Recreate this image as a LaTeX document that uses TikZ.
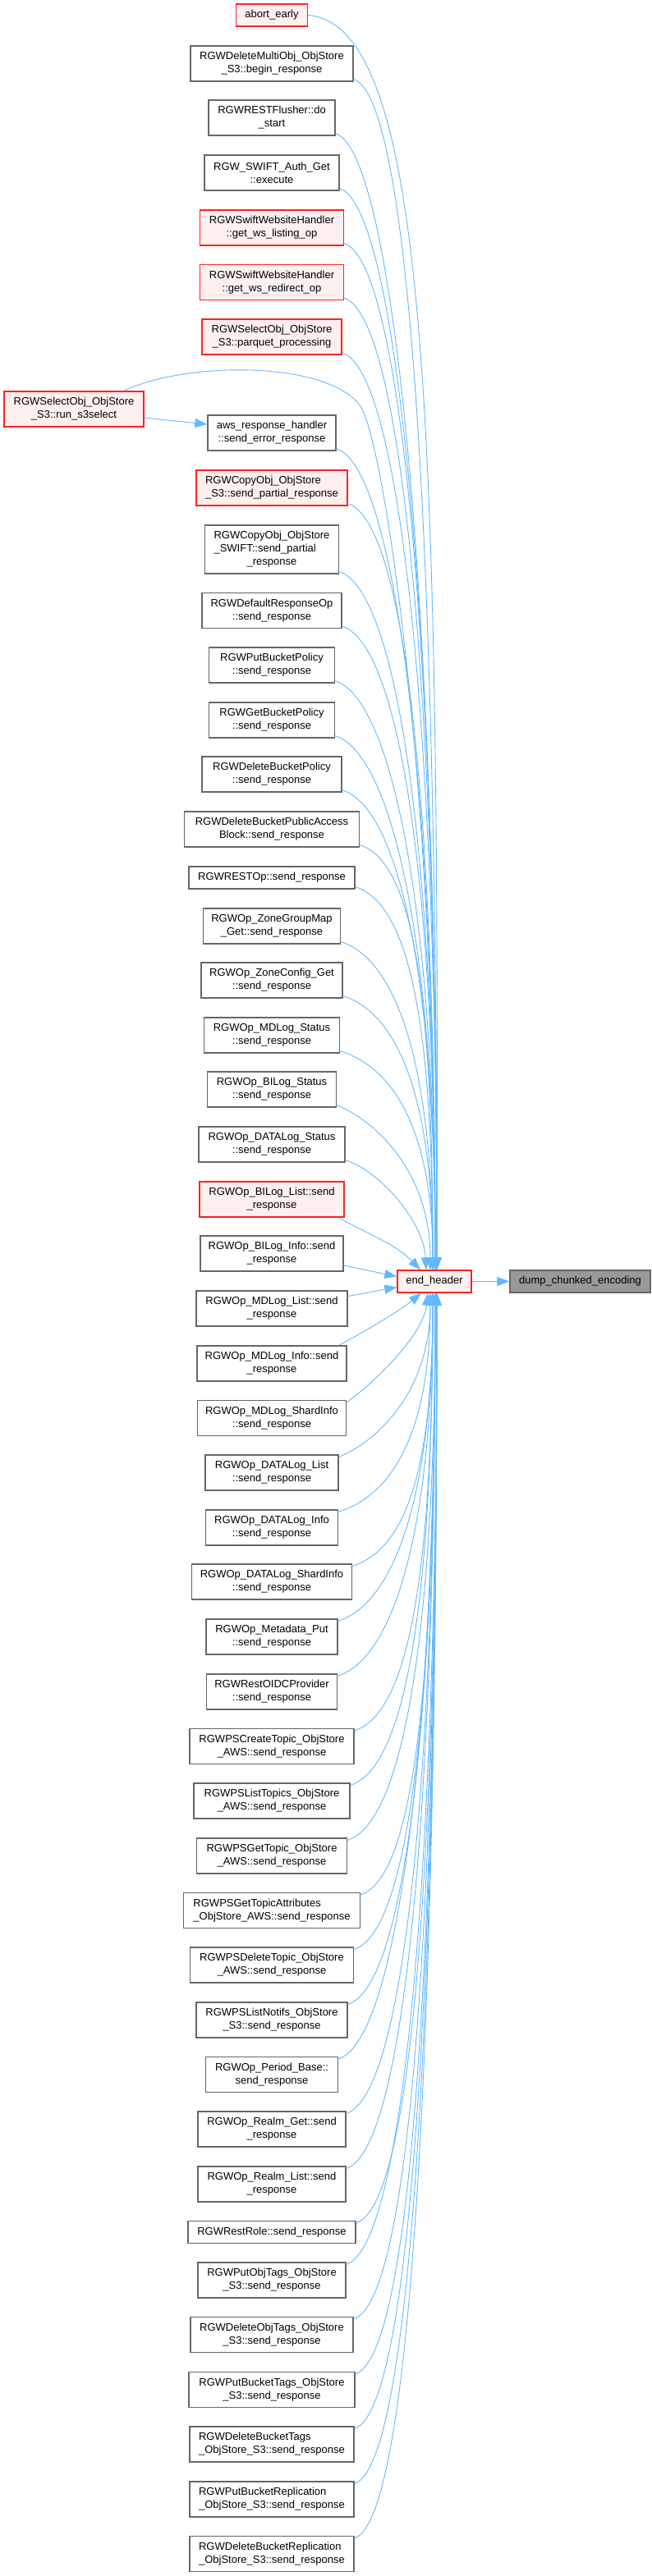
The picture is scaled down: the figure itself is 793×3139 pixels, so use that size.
\documentclass[tikz,border=0pt]{standalone}
\usepackage{fontspec}
\setmainfont{Liberation Sans}
\usetikzlibrary{arrows.meta}
\definecolor{edgec}{HTML}{63B8FF}
\definecolor{redb}{HTML}{FF2020}
\definecolor{pinkf}{HTML}{FFF0F0}
\definecolor{grayb}{HTML}{666666}
\definecolor{dumpf}{HTML}{999999}
\tikzset{
  nd/.style={draw=grayb, fill=white, line width=1.3pt, inner sep=0pt, minimum height=43pt,
    font=\fontsize{13}{16}\selectfont, align=center},
  hl/.style={nd, draw=redb, fill=pinkf},
  edge/.style={draw=edgec, line width=0.9pt, -{Triangle[length=15pt,width=11pt]}}
}
\newcommand\upE[4]{\draw[edge] ([yshift=3pt]#1.south east) .. controls +(#3) and +(0,-#4) .. ([xshift=#2pt]eh.north);}
\newcommand\dnE[4]{\draw[edge] ([yshift=-3pt]#1.north east) .. controls +(#3) and +(0,#4) .. ([xshift=#2pt]eh.south);}
\begin{document}
\begin{tikzpicture}[x=1pt,y=-1pt]
\useasboundingbox (0,0) rectangle (793,3139);
% nodes
\node[hl, minimum width=87pt, minimum height=27pt] (n1) at (331,18.5) {abort\_early};
\node[nd, minimum width=198pt] (n2) at (331,77.5) {RGWDeleteMultiObj\_ObjStore\\\_S3::begin\_response};
\node[nd, minimum width=154pt] (n3) at (331,143.5) {RGWRESTFlusher::do\\\_start};
\node[nd, minimum width=164pt] (n4) at (331,210.5) {RGW\_SWIFT\_Auth\_Get\\::execute};
\node[hl, minimum width=175pt] (n5) at (331,277.5) {RGWSwiftWebsiteHandler\\::get\_ws\_listing\_op};
\node[hl, minimum width=175pt] (n6) at (331,344) {RGWSwiftWebsiteHandler\\::get\_ws\_redirect\_op};
\node[hl, minimum width=170pt] (n7) at (331,410.5) {RGWSelectObj\_ObjStore\\\_S3::parquet\_processing};
\node[hl, minimum width=170pt] (rs) at (90,498.5) {RGWSelectObj\_ObjStore\\\_S3::run\_s3select};
\node[nd, minimum width=156pt] (n8) at (331,527.5) {aws\_response\_handler\\::send\_error\_response};
\node[hl, minimum width=184pt, align=left] (n9) at (331,594.5) {RGWCopyObj\_ObjStore\\\_S3::send\_partial\_response};
\node[nd, minimum width=163pt, minimum height=59pt] (n10) at (331,669.5) {\begin{tabular}{@{}l@{}}RGWCopyObj\_ObjStore\\\_SWIFT::send\_partial\\\multicolumn{1}{@{}c@{}}{\_response}\end{tabular}};
\node[nd, minimum width=170pt] (n11) at (331,744) {RGWDefaultResponseOp\\::send\_response};
\node[nd, minimum width=153pt] (n12) at (331,810.5) {RGWPutBucketPolicy\\::send\_response};
\node[nd, minimum width=153pt] (n13) at (331,877.5) {RGWGetBucketPolicy\\::send\_response};
\node[nd, minimum width=170pt] (n14) at (331,943.5) {RGWDeleteBucketPolicy\\::send\_response};
\node[nd, minimum width=213pt] (n15) at (331,1010.5) {RGWDeleteBucketPublicAccess\\Block::send\_response};
\node[nd, minimum width=202pt, minimum height=27pt] (n16) at (331,1069.5) {RGWRESTOp::send\_response};
\node[nd, minimum width=167pt] (n17) at (331,1128.5) {RGWOp\_ZoneGroupMap\\\_Get::send\_response};
\node[nd, minimum width=172pt] (n18) at (331,1194.5) {RGWOp\_ZoneConfig\_Get\\::send\_response};
\node[nd, minimum width=165pt] (n19) at (331,1261.5) {RGWOp\_MDLog\_Status\\::send\_response};
\node[nd, minimum width=157pt] (n20) at (331,1327.5) {RGWOp\_BILog\_Status\\::send\_response};
\node[nd, minimum width=178pt] (n21) at (331,1394.5) {RGWOp\_DATALog\_Status\\::send\_response};
\node[hl, minimum width=176pt] (n22) at (331,1461.5) {RGWOp\_BILog\_List::send\\\_response};
\node[nd, minimum width=174pt] (n23) at (331,1527.5) {RGWOp\_BILog\_Info::send\\\_response};
\node[nd, minimum width=184pt] (n24) at (331,1594.5) {RGWOp\_MDLog\_List::send\\\_response};
\node[nd, minimum width=182pt] (n25) at (331,1661.5) {RGWOp\_MDLog\_Info::send\\\_response};
\node[nd, minimum width=181pt] (n26) at (331,1728) {RGWOp\_MDLog\_ShardInfo\\::send\_response};
\node[nd, minimum width=162pt] (n27) at (331,1794.5) {RGWOp\_DATALog\_List\\::send\_response};
\node[nd, minimum width=161pt] (n28) at (331,1861.5) {RGWOp\_DATALog\_Info\\::send\_response};
\node[nd, minimum width=195pt] (n29) at (331,1927.5) {RGWOp\_DATALog\_ShardInfo\\::send\_response};
\node[nd, minimum width=160pt] (n30) at (331,1994.5) {RGWOp\_Metadata\_Put\\::send\_response};
\node[nd, minimum width=159pt] (n31) at (331,2061.5) {RGWRestOIDCProvider\\::send\_response};
\node[nd, minimum width=200pt] (n32) at (331,2128) {RGWPSCreateTopic\_ObjStore\\\_AWS::send\_response};
\node[nd, minimum width=190pt] (n33) at (331,2194.5) {RGWPSListTopics\_ObjStore\\\_AWS::send\_response};
\node[nd, minimum width=183pt] (n34) at (331,2261.5) {RGWPSGetTopic\_ObjStore\\\_AWS::send\_response};
\node[nd, minimum width=215pt, align=left] (n35) at (331,2328) {RGWPSGetTopicAttributes\\\_ObjStore\_AWS::send\_response};
\node[nd, minimum width=199pt] (n36) at (331,2394.5) {RGWPSDeleteTopic\_ObjStore\\\_AWS::send\_response};
\node[nd, minimum width=184pt] (n37) at (331,2461.5) {RGWPSListNotifs\_ObjStore\\\_S3::send\_response};
\node[nd, minimum width=161pt] (n38) at (331,2528) {RGWOp\_Period\_Base::\\send\_response};
\node[nd, minimum width=180pt] (n39) at (331,2594.5) {RGWOp\_Realm\_Get::send\\\_response};
\node[nd, minimum width=180pt] (n40) at (331,2661.5) {RGWOp\_Realm\_List::send\\\_response};
\node[nd, minimum width=204pt, minimum height=27pt] (n41) at (331,2720) {RGWRestRole::send\_response};
\node[nd, minimum width=180pt] (n42) at (331,2778.5) {RGWPutObjTags\_ObjStore\\\_S3::send\_response};
\node[nd, minimum width=198pt] (n43) at (331,2845) {RGWDeleteObjTags\_ObjStore\\\_S3::send\_response};
\node[nd, minimum width=202pt] (n44) at (331,2912) {RGWPutBucketTags\_ObjStore\\\_S3::send\_response};
\node[nd, minimum width=200pt, align=left] (n45) at (331,2978.5) {RGWDeleteBucketTags\\\_ObjStore\_S3::send\_response};
\node[nd, minimum width=200pt, align=left] (n46) at (331,3045.5) {RGWPutBucketReplication\\\_ObjStore\_S3::send\_response};
\node[nd, minimum width=200pt, align=left] (n47) at (331,3112) {RGWDeleteBucketReplication\\\_ObjStore\_S3::send\_response};
\node[hl, minimum width=90pt, minimum height=27pt] (eh) at (529,1561.5) {end\_header};
\node[nd, fill=dumpf, minimum width=171pt, minimum height=27pt] (dump) at (706.5,1561.5) {dump\_chunked\_encoding};
\coordinate (rsmid) at (439,495);
% edges
\draw[edge] (eh) -- (dump);
\draw[edge] ([yshift=-10.5pt]rs.east) -- ([yshift=10.5pt]n8.west);
\draw[edge] ([xshift=60pt]rs.north) .. controls +(80,-37) and +(-39,-55) .. (rsmid)
  .. controls +(26,37) and +(0,-620) .. ([xshift=1pt]eh.north);
\draw[edge] (n1.east) .. controls +(145,12) and +(3,-1048) .. ([xshift=3pt]eh.north);
\upE{n2}{3}{70,22}{871}
\upE{n3}{3}{70,22}{832}
\upE{n4}{3}{70,22}{791}
\upE{n5}{3}{70,22}{751}
\upE{n6}{3}{70,22}{712}
\upE{n7}{3}{70,22}{671}
\upE{n8}{1}{70,22}{601}
\upE{n9}{1}{70,22}{561}
\upE{n10}{1}{70,22}{511}
\upE{n11}{1}{70,22}{472}
\upE{n12}{1}{70,22}{431}
\upE{n13}{1}{70,22}{391}
\upE{n14}{1}{70,22}{352}
\upE{n15}{-2}{70,22}{311}
\upE{n16}{-2}{70,22}{281}
\upE{n17}{-2}{70,22}{241}
\upE{n18}{-2}{70,22}{201}
\upE{n19}{-2}{70,22}{161}
\upE{n20}{-5}{45,18}{121}
\draw[edge] ([yshift=3pt]n21.south east) .. controls +(40,12) and +(-3,-60) .. ([xshift=-10pt]eh.north);
\draw[edge] ([xshift=-7pt]n22.south east) .. controls +(28,17) and +(-32,-33) .. ([xshift=-17pt]eh.north);
\draw[edge] ([yshift=-14.5pt]n23.east) -- ([yshift=6pt]eh.west);
\draw[edge] ([yshift=15pt]n24.east) -- ([yshift=-7pt]eh.west);
\draw[edge] ([xshift=-10pt]n25.north east) .. controls +(28,-15) and +(-28,23) .. ([xshift=-16pt]eh.south);
\draw[edge] ([yshift=-3pt]n26.north east) .. controls +(35,-25) and +(-5,50) .. ([xshift=-8pt]eh.south);
\dnE{n27}{-5}{45,-18}{121}
\dnE{n28}{-5}{70,-22}{161}
\dnE{n29}{-2}{70,-22}{200}
\dnE{n30}{-2}{70,-22}{241}
\dnE{n31}{-2}{70,-22}{281}
\dnE{n32}{-2}{70,-22}{321}
\dnE{n33}{-2}{70,-22}{361}
\dnE{n34}{1}{70,-22}{401}
\dnE{n35}{1}{70,-22}{441}
\dnE{n36}{1}{70,-22}{481}
\dnE{n37}{1}{70,-22}{521}
\dnE{n38}{1}{70,-22}{561}
\dnE{n39}{1}{70,-22}{601}
\dnE{n40}{1}{70,-22}{641}
\dnE{n41}{3}{70,-22}{681}
\dnE{n42}{3}{70,-22}{711}
\dnE{n43}{3}{70,-22}{751}
\dnE{n44}{3}{70,-22}{791}
\dnE{n45}{3}{70,-22}{831}
\dnE{n46}{3}{70,-22}{871}
\dnE{n47}{3}{70,-22}{911}
\end{tikzpicture}
\end{document}
